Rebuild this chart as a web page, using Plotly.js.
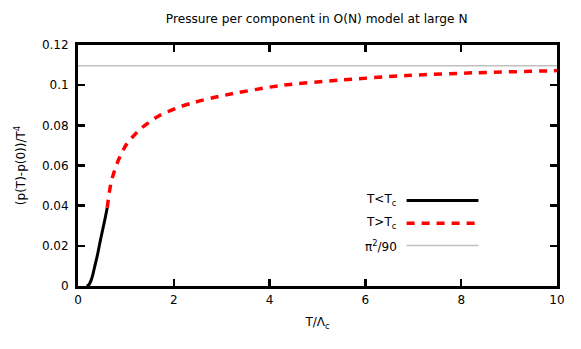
<!DOCTYPE html>
<html><head><meta charset="utf-8">
<script src="https://cdn.plot.ly/plotly-3.0.1.min.js"></script>
<style>html,body{margin:0;padding:0;background:#fff}#c{width:581px;height:349px}</style>
</head><body><div id="c"></div>
<script>
const T_below = [0.18, 0.22, 0.26, 0.31, 0.35, 0.40, 0.47, 0.56, 0.61];
const p_below = [0.0, 0.0004, 0.0020, 0.0057, 0.0098, 0.0148, 0.023, 0.033, 0.039];
const T_above = [0.61, 0.69, 0.82, 1.02, 1.31, 1.66, 2.07, 2.44, 2.96, 4.22, 5.47, 6.86, 8.32, 9.92, 10];
const p_above = [0.039, 0.0514, 0.0613, 0.0708, 0.0783, 0.0843, 0.0887, 0.0915, 0.0945, 0.0998, 0.1025, 0.1048, 0.1062, 0.1072, 0.1073];
const T_ref = [0, 10];
const p_ref = [Math.PI*Math.PI/90, Math.PI*Math.PI/90];
const xTicks = [0, 2, 4, 6, 8, 10];
const yTicks = [0, 0.02, 0.04, 0.06, 0.08, 0.1, 0.12];
const yTickText = ['0', '0.02', '0.04', '0.06', '0.08', '0.1', '0.12'];
const legendNames = ['T&lt;T<sub>c</sub>', 'T&gt;T<sub>c</sub>', 'π<sup>2</sup>/90'];

const font = {family: 'DejaVu Sans, sans-serif', size: 12, color: '#000'};
const traces = [
  {x: T_ref, y: p_ref, mode: 'lines', line: {color: '#c0c0c0', width: 1.5}, showlegend: false, hoverinfo: 'skip'},
  {x: T_below, y: p_below, mode: 'lines', line: {color: '#000', width: 3, shape: 'spline', smoothing: 0.8}, showlegend: false},
  {x: T_above, y: p_above, mode: 'lines', line: {color: '#ff0000', width: 3.5, dash: '8px,7px', shape: 'spline', smoothing: 0.8}, showlegend: false}
];
const legY = [0.355, 0.26, 0.168];
const legStyles = [
  {color: '#000', width: 3},
  {color: '#ff0000', width: 3.5, dash: '8px,7px'},
  {color: '#c0c0c0', width: 1.5}
];
const shapes = [], annotations = [];
legendNames.forEach((n, i) => {
  shapes.push({type: 'line', xref: 'paper', yref: 'paper', x0: 0.686, x1: 0.836, y0: legY[i], y1: legY[i], line: legStyles[i]});
  annotations.push({xref: 'paper', yref: 'paper', x: 0.67, y: legY[i], xanchor: 'right', yanchor: 'middle', text: n, showarrow: false, font: font});
});
const layout = {
  width: 581, height: 349,
  margin: {l: 78, r: 24, t: 45, b: 63},
  paper_bgcolor: '#fff', plot_bgcolor: '#fff',
  font: font,
  title: {text: 'Pressure per component in O(N) model at large N', font: {family: 'DejaVu Sans, sans-serif', size: 12.2, color: '#000'}, x: 0.545, xanchor: 'center', y: 0.945, yanchor: 'middle'},
  xaxis: {range: [0, 10], tickvals: xTicks, ticktext: xTicks.map(String), ticks: 'inside', ticklen: 7, tickwidth: 2.5, tickcolor: '#000',
    showline: true, linewidth: 3, linecolor: '#000', mirror: 'ticks', showgrid: false, zeroline: false, ticklabelstandoff: 1,
    title: {text: 'T/Λ<sub>c</sub>', font: font, standoff: 12}},
  yaxis: {range: [0, 0.12], tickvals: yTicks, ticktext: yTickText, ticks: 'inside', ticklen: 7, tickwidth: 2.5, tickcolor: '#000',
    showline: true, linewidth: 3, linecolor: '#000', mirror: 'ticks', showgrid: false, zeroline: false, ticklabelstandoff: 4,
    title: {text: '(p(T)-p(0))/T<sup>4</sup>', font: font, standoff: 14}},
  shapes: shapes, annotations: annotations, showlegend: false
};
Plotly.newPlot('c', traces, layout, {staticPlot: true});
</script></body></html>
